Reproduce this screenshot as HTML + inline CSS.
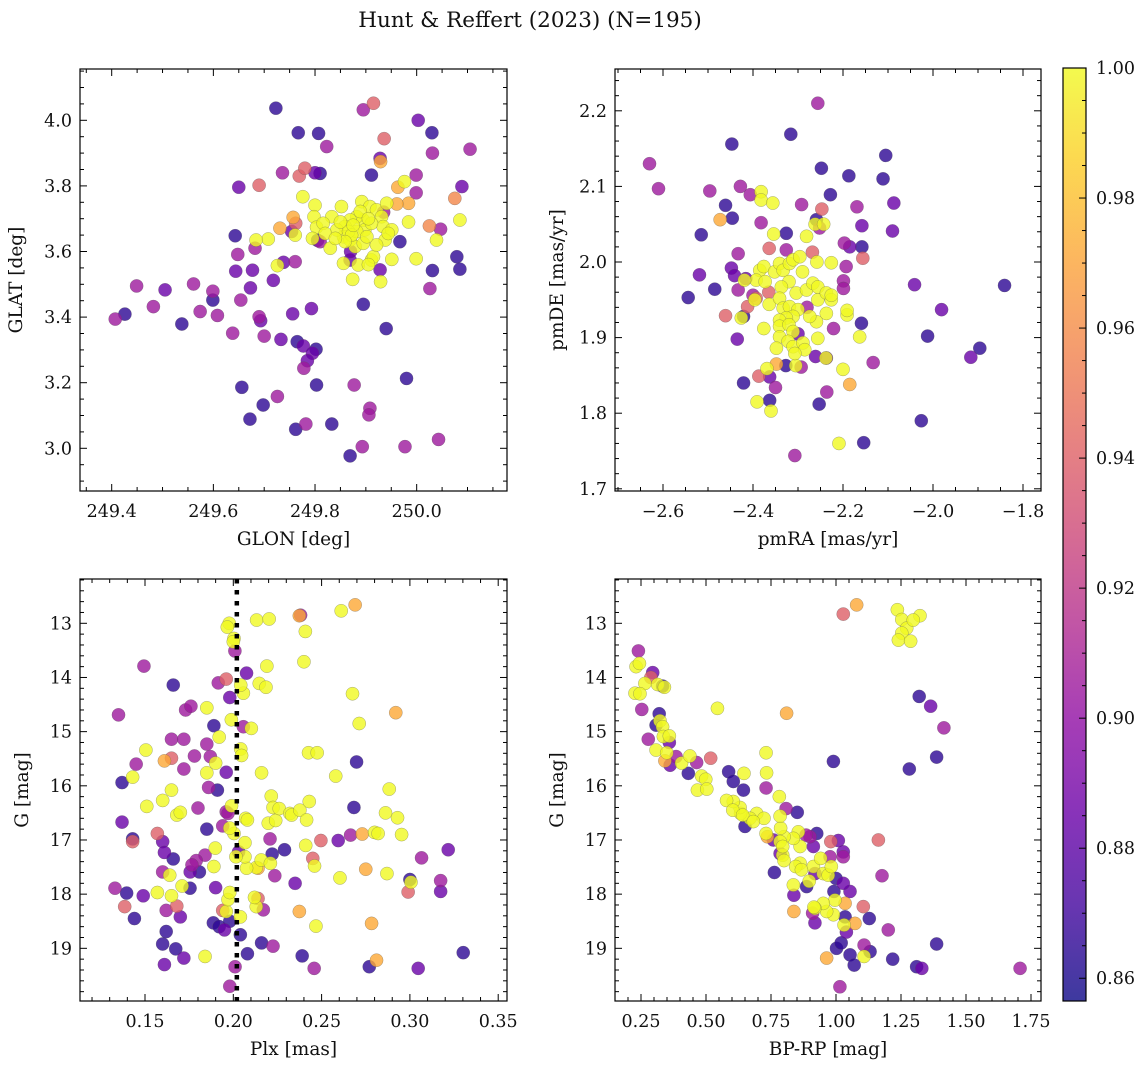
<!DOCTYPE html>
<html><head><meta charset="utf-8">
<style>
html,body{margin:0;padding:0;background:#fff;}
svg{display:block;font-family:"DejaVu Serif","Liberation Serif",serif;}
</style></head>
<body>
<svg id="fig" width="1148" height="1068" viewBox="0 0 1148 1068" xmlns="http://www.w3.org/2000/svg">
<defs>
<linearGradient id="plasma" x1="0" y1="1" x2="0" y2="0"></linearGradient>
</defs>
<text x="530" y="27" text-anchor="middle" font-size="21.5" fill="#111">Hunt &amp; Reffert (2023) (N=195)</text>
</svg>
<script>
const B=0.865,V=0.885,M=0.905,P=0.94,O=0.972,Y=1.0;
const skyPoints=[[249.723,4.037,B],[249.895,4.032,M],[249.915,4.052,P],[249.767,3.962,B],[249.807,3.960,B],[250.003,4.0,V],[250.03,3.962,B],[249.823,3.92,M],[249.936,3.944,P],[250.105,3.912,M],[250.031,3.9,M],[249.928,3.884,V],[249.929,3.874,O],[249.736,3.84,M],[249.769,3.83,P],[249.78,3.854,P],[249.8,3.84,V],[249.81,3.838,B],[249.911,3.833,B],[249.999,3.833,M],[249.65,3.796,V],[249.69,3.802,P],[250.089,3.798,V],[249.999,3.779,M],[249.976,3.813,Y],[249.963,3.796,O],[250.075,3.762,0.958],[249.776,3.767,Y],[249.984,3.747,O],[249.961,3.745,O],[250.085,3.696,Y],[249.984,3.69,Y],[250.025,3.678,0.958],[250.047,3.668,M],[250.039,3.635,Y],[249.967,3.63,B],[249.999,3.578,Y],[249.951,3.576,Y],[250.079,3.584,B],[250.085,3.546,B],[250.031,3.542,B],[250.026,3.487,M],[249.928,3.544,V],[249.929,3.508,Y],[249.874,3.515,Y],[249.856,3.564,Y],[249.869,3.574,V],[249.885,3.559,Y],[249.911,3.574,Y],[249.915,3.584,Y],[249.905,3.56,Y],[249.757,3.704,O],[249.762,3.686,P],[249.731,3.671,O],[249.754,3.661,V],[249.761,3.650,Y],[249.708,3.638,Y],[249.684,3.635,Y],[249.643,3.648,B],[249.682,3.610,M],[249.648,3.591,M],[249.738,3.567,V],[249.726,3.557,Y],[249.761,3.569,M],[249.644,3.540,V],[249.677,3.543,V],[249.718,3.512,V],[249.673,3.489,V],[249.561,3.501,M],[249.449,3.495,M],[249.505,3.483,V],[249.599,3.479,M],[249.599,3.452,B],[249.654,3.452,M],[249.482,3.432,M],[249.574,3.417,M],[249.608,3.405,M],[249.426,3.409,B],[249.407,3.394,M],[249.538,3.379,B],[249.638,3.351,M],[249.69,3.401,M],[249.693,3.389,V],[249.7,3.342,M],[249.733,3.332,V],[249.756,3.41,V],[249.793,3.426,V],[249.895,3.439,B],[249.94,3.365,B],[249.765,3.325,B],[249.777,3.312,V],[249.802,3.302,B],[249.795,3.29,V],[249.785,3.267,V],[249.778,3.244,M],[249.803,3.193,B],[249.656,3.186,B],[249.726,3.158,M],[249.698,3.132,B],[249.672,3.089,B],[249.762,3.058,B],[249.782,3.074,M],[249.833,3.074,B],[249.877,3.193,M],[249.908,3.122,M],[249.906,3.102,M],[249.98,3.213,B],[249.869,2.977,B],[249.893,3.005,M],[249.977,3.005,M],[250.043,3.027,M],[249.805,3.634,B],[249.81,3.63,M],[249.935,3.72,M],[249.87,3.6,V],
[249.8,3.741,Y],[249.798,3.706,Y],[249.803,3.674,Y],[249.795,3.64,Y],[249.83,3.61,Y],[249.833,3.706,Y],[249.852,3.737,Y],[249.892,3.752,Y],[249.908,3.737,Y],[249.921,3.727,Y],[249.941,3.747,Y],[249.931,3.706,Y],[249.934,3.676,Y],[249.951,3.666,Y],[249.938,3.635,Y],[249.921,3.62,Y],[249.895,3.696,Y],[249.882,3.706,Y],[249.869,3.696,Y],[249.859,3.676,Y],[249.856,3.645,Y],[249.869,3.635,Y],[249.879,3.615,Y],[249.895,3.625,Y],[249.898,3.666,Y],[249.911,3.686,Y],[249.882,3.661,Y],[249.843,3.666,Y],[249.816,3.686,Y],[249.82,3.655,Y],[249.866,3.661,Y],[249.872,3.65,Y],[249.859,3.63,Y],[249.902,3.645,Y],[249.889,3.722,Y],[249.944,3.655,Y],[249.85,3.69,Y],[249.875,3.68,Y],[249.905,3.7,Y],[249.84,3.64,Y]];
const pmPoints=[[-2.256,2.21,M],[-2.316,2.169,B],[-2.447,2.156,B],[-2.63,2.13,M],[-2.61,2.097,M],[-2.105,2.141,B],[-2.248,2.124,B],[-2.187,2.114,B],[-2.111,2.11,B],[-2.228,2.089,B],[-2.087,2.078,V],[-2.496,2.094,M],[-2.428,2.1,M],[-2.406,2.089,M],[-2.382,2.093,Y],[-2.382,2.082,Y],[-2.356,2.078,Y],[-2.292,2.076,M],[-2.247,2.07,P],[-2.169,2.073,M],[-2.461,2.075,B],[-2.473,2.056,O],[-2.446,2.058,B],[-2.382,2.052,M],[-2.259,2.056,B],[-2.262,2.05,Y],[-2.243,2.05,Y],[-2.252,2.045,M],[-2.158,2.048,V],[-2.09,2.041,V],[-2.515,2.036,B],[-2.354,2.037,Y],[-2.326,2.038,B],[-2.281,2.034,Y],[-2.433,2.011,M],[-2.364,2.018,P],[-2.326,2.016,M],[-2.268,2.013,P],[-2.197,2.025,M],[-2.185,2.02,V],[-2.158,2.02,B],[-2.156,2.005,P],[-2.193,1.994,M],[-2.258,2.0,Y],[-2.226,1.999,Y],[-2.448,1.992,V],[-2.519,1.983,V],[-2.441,1.982,V],[-2.416,1.978,V],[-2.041,1.97,V],[-1.841,1.969,B],[-2.544,1.953,B],[-2.485,1.964,B],[-2.433,1.963,M],[-2.199,1.975,M],[-2.199,1.965,M],[-2.4,1.956,M],[-2.393,1.952,P],[-2.412,1.941,P],[-2.461,1.929,P],[-2.421,1.928,B],[-2.426,1.926,Y],[-1.981,1.937,V],[-2.012,1.902,B],[-1.896,1.886,B],[-1.916,1.874,V],[-2.159,1.919,B],[-2.221,1.912,M],[-2.435,1.898,V],[-2.133,1.867,M],[-2.191,1.93,Y],[-2.191,1.936,Y],[-2.163,1.901,Y],[-2.2,1.858,Y],[-2.185,1.838,O],[-2.237,1.873,V],[-2.261,1.875,V],[-2.327,1.863,B],[-2.305,1.863,Y],[-2.293,1.861,M],[-2.348,1.865,O],[-2.369,1.859,Y],[-2.387,1.849,P],[-2.363,1.848,V],[-2.35,1.834,M],[-2.421,1.84,B],[-2.391,1.815,Y],[-2.363,1.817,B],[-2.36,1.803,Y],[-2.253,1.812,B],[-2.236,1.828,M],[-2.026,1.79,B],[-2.209,1.76,Y],[-2.154,1.761,B],[-2.307,1.744,M],[-2.238,1.873,Y],[-2.365,1.96,P],[-2.28,1.94,M],[-2.3,1.905,V],
[-2.385,1.989,Y],[-2.376,1.994,Y],[-2.393,1.976,Y],[-2.373,1.974,Y],[-2.364,1.944,Y],[-2.352,1.987,Y],[-2.341,1.998,Y],[-2.333,1.989,Y],[-2.319,1.998,Y],[-2.311,2.003,Y],[-2.296,2.007,Y],[-2.29,1.987,Y],[-2.32,1.974,Y],[-2.337,1.967,Y],[-2.341,1.952,Y],[-2.333,1.939,Y],[-2.319,1.941,Y],[-2.3,1.937,Y],[-2.304,1.959,Y],[-2.281,1.963,Y],[-2.267,1.972,Y],[-2.256,1.967,Y],[-2.256,1.95,Y],[-2.237,1.959,Y],[-2.226,1.95,Y],[-2.237,1.932,Y],[-2.259,1.921,Y],[-2.274,1.928,Y],[-2.311,1.928,Y],[-2.326,1.926,Y],[-2.341,1.923,Y],[-2.341,1.915,Y],[-2.32,1.917,Y],[-2.311,1.908,Y],[-2.341,1.901,Y],[-2.322,1.895,Y],[-2.311,1.888,Y],[-2.289,1.893,Y],[-2.285,1.884,Y],[-2.376,1.912,Y],[-2.348,1.886,Y],[-2.256,1.899,Y],[-2.226,1.956,Y],[-2.419,1.976,Y],[-2.396,1.95,Y],[-2.307,1.879,Y]];
const plxPoints=[[0.1494,13.79,M],[0.135,14.69,M],[0.166,14.14,B],[0.137,15.94,B],[0.145,15.6,M],[0.1505,15.34,Y],[0.143,15.84,Y],[0.165,15.14,M],[0.172,15.14,M],[0.165,15.49,P],[0.161,15.54,O],[0.172,15.69,M],[0.178,15.45,M],[0.173,14.6,M],[0.176,14.53,M],[0.185,14.56,Y],[0.189,14.89,B],[0.192,15.1,Y],[0.185,15.23,M],[0.187,15.46,M],[0.19,15.58,Y],[0.185,15.76,Y],[0.196,15.75,V],[0.186,16.03,M],[0.191,16.08,B],[0.165,16.08,Y],[0.16,16.27,Y],[0.151,16.38,Y],[0.168,16.54,Y],[0.17,16.49,Y],[0.18,16.41,M],[0.196,16.48,M],[0.194,16.74,M],[0.137,16.67,V],[0.185,16.8,B],[0.157,16.88,P],[0.143,16.98,B],[0.143,17.03,P],[0.16,17.03,V],[0.161,17.23,V],[0.166,17.35,B],[0.184,17.28,M],[0.1898,17.15,Y],[0.179,17.38,M],[0.1766,17.46,M],[0.1756,17.59,V],[0.16,17.59,M],[0.164,17.65,Y],[0.1808,17.59,B],[0.189,17.49,Y],[0.1755,17.89,B],[0.171,17.85,Y],[0.133,17.89,M],[0.1396,17.98,B],[0.149,18.03,V],[0.157,17.97,Y],[0.165,18.03,Y],[0.19,17.88,V],[0.1385,18.23,P],[0.162,18.3,M],[0.168,18.22,P],[0.17,18.42,V],[0.144,18.45,B],[0.162,18.69,B],[0.16,18.92,B],[0.1674,19.01,B],[0.172,19.18,V],[0.161,19.3,V],[0.184,19.15,Y],[0.1887,18.53,B],[0.192,18.6,B],[0.195,18.66,V],[0.198,18.5,B],[0.194,18.3,P],[0.196,18.32,Y],[0.197,18.1,Y],[0.198,17.97,Y],[0.198,19.7,M],[0.201,19.34,M],[0.204,18.75,B],[0.208,19.1,B],[0.204,18.42,Y],[0.216,18.9,B],[0.2225,18.96,M],[0.217,18.29,M],[0.214,18.08,P],[0.213,18.23,Y],[0.212,18.06,Y],[0.214,17.52,O],[0.213,17.51,Y],[0.2158,17.37,Y],[0.221,17.43,Y],[0.2235,17.66,M],[0.2075,17.52,Y],[0.2066,17.31,Y],[0.2015,17.31,Y],[0.203,17.22,V],[0.2066,17.05,Y],[0.2004,16.88,Y],[0.198,16.78,Y],[0.199,16.37,Y],[0.197,16.51,M],[0.207,16.6,Y],[0.208,16.63,Y],[0.2198,16.69,Y],[0.224,16.64,Y],[0.2215,16.19,Y],[0.2225,16.4,Y],[0.226,16.42,Y],[0.232,16.51,Y],[0.233,16.54,Y],[0.2377,16.45,Y],[0.243,16.29,Y],[0.2415,16.63,Y],[0.2208,16.98,M],[0.222,17.26,B],[0.229,17.18,B],[0.241,17.1,Y],[0.245,17.34,P],[0.246,17.48,Y],[0.2496,17.01,P],[0.235,17.8,V],[0.2374,18.32,O],[0.2468,18.59,Y],[0.239,19.14,B],[0.2458,19.37,M],[0.2594,17.01,V],[0.2664,16.91,M],[0.273,16.89,O],[0.28,16.86,Y],[0.282,16.88,Y],[0.275,17.54,O],[0.2604,17.7,Y],[0.287,17.62,Y],[0.2953,16.9,Y],[0.293,16.59,Y],[0.2862,16.5,Y],[0.2883,16.06,Y],[0.2683,16.4,B],[0.2698,15.56,B],[0.258,15.82,Y],[0.2426,15.39,Y],[0.2475,15.39,Y],[0.292,14.65,O],[0.2713,14.85,Y],[0.2675,14.3,Y],[0.24,13.71,Y],[0.2408,13.15,Y],[0.2381,12.85,M],[0.2374,12.86,O],[0.2611,12.77,Y],[0.269,12.66,O],[0.2132,12.94,Y],[0.2203,12.92,Y],[0.219,13.79,Y],[0.2147,14.11,Y],[0.2185,14.18,Y],[0.2075,13.92,V],[0.2057,14.29,Y],[0.2042,14.14,Y],[0.2102,14.94,Y],[0.2057,14.91,M],[0.1989,14.78,Y],[0.198,14.37,V],[0.196,14.03,P],[0.1915,14.1,M],[0.1977,13.0,Y],[0.1966,13.07,Y],[0.2004,13.28,Y],[0.2,13.34,Y],[0.2009,13.51,M],[0.2042,15.32,Y],[0.2047,15.44,Y],[0.216,15.76,Y],[0.3302,19.08,B],[0.3047,19.37,V],[0.277,19.34,B],[0.2811,19.22,O],[0.2783,18.54,O],[0.3174,17.75,M],[0.3174,17.95,V],[0.3217,17.18,V],[0.3066,17.33,M],[0.3,17.73,B],[0.3006,17.78,Y],[0.299,17.96,P]];
const cmdPoints=[[1.0795,12.66,O],[1.028,12.83,P],[1.236,12.75,Y],[1.253,12.93,Y],[1.323,12.86,Y],[1.272,13.09,Y],[1.253,13.18,Y],[1.24,13.31,Y],[1.287,13.33,Y],[1.297,12.94,Y],[0.24,13.51,M],[0.231,13.8,Y],[0.244,13.74,Y],[0.288,14.0,P],[0.295,13.91,V],[0.265,14.11,Y],[0.227,14.29,Y],[0.246,14.3,Y],[0.314,14.13,Y],[0.333,14.16,B],[0.34,14.18,Y],[0.253,14.59,M],[0.544,14.57,Y],[0.81,14.66,O],[0.32,14.67,B],[0.308,14.88,B],[0.323,14.8,Y],[0.333,14.91,Y],[0.278,15.14,M],[0.336,15.09,Y],[0.359,15.2,V],[0.359,15.08,Y],[0.308,15.34,Y],[0.349,15.39,Y],[0.342,15.54,O],[0.362,15.62,V],[0.385,15.46,M],[0.406,15.58,Y],[0.438,15.45,Y],[0.464,15.57,M],[0.432,15.77,B],[0.483,15.82,Y],[0.499,15.88,Y],[0.467,16.08,Y],[0.503,16.06,Y],[0.518,15.49,P],[0.587,15.74,B],[0.605,15.92,B],[0.646,15.77,Y],[0.644,16.08,B],[0.731,15.39,Y],[0.733,15.76,Y],[0.731,16.04,M],[0.782,16.2,Y],[0.808,16.42,M],[0.851,16.49,B],[0.99,15.55,B],[1.282,15.69,B],[1.387,15.47,B],[1.415,14.93,M],[1.364,14.53,V],[1.32,14.35,B],[1.163,17.0,P],[1.177,17.66,M],[1.201,18.66,M],[1.218,19.2,B],[1.387,18.92,B],[1.31,19.34,B],[1.33,19.37,V],[1.708,19.37,M],[1.015,19.71,M],[0.964,19.18,O],[1.002,19.0,B],[1.054,19.12,B],[1.07,19.31,B],[1.108,19.15,Y],[1.108,18.94,M],[1.131,19.06,B],[1.128,18.45,B],[1.105,18.23,P],[1.073,18.54,O],[1.035,18.42,B],[1.031,18.57,Y],[1.035,18.17,O],[1.054,17.95,V],[1.028,17.8,V],[1.0,17.71,B],[0.992,17.95,B],[0.996,18.11,Y],[0.99,18.38,Y],[0.964,18.32,Y],[0.951,18.17,Y],[0.919,18.26,Y],[0.91,18.35,M],[0.919,18.53,V],[0.838,18.02,V],[0.838,18.32,O],[0.887,17.86,B],[0.897,17.76,Y],[0.913,17.49,Y],[0.862,17.43,Y],[0.845,17.49,Y],[0.867,17.55,Y],[0.919,17.62,V],[0.951,17.62,Y],[0.97,17.65,Y],[0.982,17.49,Y],[0.977,17.31,M],[0.941,17.34,Y],[0.913,17.12,V],[0.9,16.94,M],[0.885,16.91,M],[0.926,16.88,B],[0.98,17.03,P],[1.009,17.01,V],[1.028,17.22,V],[1.028,17.31,M],[0.862,17.12,Y],[0.855,16.85,Y],[0.836,16.97,Y],[0.8,16.94,Y],[0.787,16.78,Y],[0.785,17.03,Y],[0.795,17.28,Y],[0.795,17.12,Y],[0.8,17.38,Y],[0.785,17.25,V],[0.763,17.6,B],[0.785,16.56,Y],[0.759,17.0,V],[0.731,16.88,Y],[0.736,16.94,O],[0.695,16.51,Y],[0.723,16.6,Y],[0.669,16.6,Y],[0.65,16.75,B],[0.633,16.51,Y],[0.631,16.4,Y],[0.605,16.29,Y],[0.579,16.27,Y],[0.603,16.45,Y],[0.641,16.54,Y],[0.682,16.66,Y],[0.836,17.83,Y],[0.915,18.24,Y],[1.02,18.9,B],[1.04,18.7,V]];
const plxCut=[0.202];
const cbarTicks=[0.86,0.88,0.90,0.92,0.94,0.96,0.98,1.00];
const cmin=0.8565,cmax=1.0;

const NS="http://www.w3.org/2000/svg";
const svg=document.getElementById('fig');
function el(tag,attrs,parent){const e=document.createElementNS(NS,tag);for(const k in attrs)e.setAttribute(k,attrs[k]);(parent||svg).appendChild(e);return e;}
const stops=[[0,'#0d0887'],[0.1,'#41049d'],[0.2,'#6a00a8'],[0.3,'#8f0da4'],[0.4,'#b12a90'],[0.5,'#cc4778'],[0.6,'#e16462'],[0.7,'#f2844b'],[0.8,'#fca636'],[0.9,'#fcce25'],[1,'#f0f921']];
function hex(h){return [parseInt(h.substr(1,2),16),parseInt(h.substr(3,2),16),parseInt(h.substr(5,2),16)];}
function plasma(t){t=Math.max(0,Math.min(1,t));for(let i=1;i<stops.length;i++){if(t<=stops[i][0]){const a=stops[i-1],b=stops[i];const f=(t-a[0])/(b[0]-a[0]);const ca=hex(a[1]),cb=hex(b[1]);return 'rgb('+ca.map((v,j)=>Math.round(v+(cb[j]-v)*f)).join(',')+')';}}return stops[stops.length-1][1];}
const grad=document.getElementById('plasma');
for(let i=0;i<=20;i++){const s=el('stop',{offset:(i/20),'stop-color':plasma(i/20)},grad);}

const TICK=17.5, LAB=18.5;
function fmt(v,d){return v.toFixed(d).replace('-','\u2212');}
function panel(cfg){
  const g=el('g',{});
  
  
  const sx=v=>cfg.x0+(v-cfg.xmin)/(cfg.xmax-cfg.xmin)*(cfg.x1-cfg.x0);
  const sy=cfg.invert? (v=>cfg.y0+(v-cfg.ymin)/(cfg.ymax-cfg.ymin)*(cfg.y1-cfg.y0)) : (v=>cfg.y1-(v-cfg.ymin)/(cfg.ymax-cfg.ymin)*(cfg.y1-cfg.y0));
  const clip=el('clipPath',{id:'clip'+cfg.id},g);
  el('rect',{x:cfg.x0,y:cfg.y0,width:cfg.x1-cfg.x0,height:cfg.y1-cfg.y0},clip);
  const pg=el('g',{'clip-path':'url(#clip'+cfg.id+')'},g);
  const pts=cfg.data.slice().sort((a,b)=>a[2]-b[2]);
  pts.forEach(p=>{
    const c=el('circle',{cx:sx(p[0]),cy:sy(p[1]),r:6.6,fill:plasma((p[2]-cmin)/(cmax-cmin)),'fill-opacity':0.8,stroke:'#555','stroke-opacity':0.5,'stroke-width':0.5},pg);
    
    
  });
  if(cfg.vline){cfg.vline.forEach(v=>{const l=el('line',{x1:sx(v),x2:sx(v),y1:cfg.y0,y2:cfg.y1,stroke:'#000','stroke-width':4.5,'stroke-dasharray':'4.5 6.5'},pg);
    
    });}
  el('rect',{x:cfg.x0,y:cfg.y0,width:cfg.x1-cfg.x0,height:cfg.y1-cfg.y0,fill:'none',stroke:'#000','stroke-width':1.2},g);
  const tk=el('g',{stroke:'#000','stroke-width':1},g);
  const eps=1e-9;
  for(let v=Math.ceil(cfg.xmin/cfg.xminor-eps)*cfg.xminor;v<=cfg.xmax+eps;v+=cfg.xminor){
    const X=sx(v);const isMaj=Math.abs(v/cfg.xmajor-Math.round(v/cfg.xmajor))<1e-6;const L=isMaj?7:4;
    el('line',{x1:X,x2:X,y1:cfg.y1,y2:cfg.y1-L},tk);el('line',{x1:X,x2:X,y1:cfg.y0,y2:cfg.y0+L},tk);
    if(isMaj){const t=el('text',{x:X,y:cfg.y1+26,'text-anchor':'middle','font-size':TICK,fill:'#111',stroke:'none'},g);t.textContent=fmt(v,cfg.xd);
      }
  }
  for(let v=Math.ceil(cfg.ymin/cfg.yminor-eps)*cfg.yminor;v<=cfg.ymax+eps;v+=cfg.yminor){
    const Y=sy(v);const isMaj=Math.abs(v/cfg.ymajor-Math.round(v/cfg.ymajor))<1e-6;const L=isMaj?7:4;
    el('line',{x1:cfg.x0,x2:cfg.x0+L,y1:Y,y2:Y},tk);el('line',{x1:cfg.x1,x2:cfg.x1-L,y1:Y,y2:Y},tk);
    if(isMaj){const t=el('text',{x:cfg.x0-8,y:Y+6,'text-anchor':'end','font-size':TICK,fill:'#111',stroke:'none'},g);t.textContent=fmt(v,cfg.yd);
      }
  }
  const xl=el('text',{x:(cfg.x0+cfg.x1)/2,y:cfg.y1+54,'text-anchor':'middle','font-size':LAB,fill:'#111'},g);xl.textContent=cfg.xlabel;
  
  const yx=cfg.x0-cfg.ylabOff,yy=(cfg.y0+cfg.y1)/2;
  const yl=el('text',{x:yx,y:yy,'text-anchor':'middle','font-size':LAB,fill:'#111',transform:'rotate(-90 '+yx+' '+yy+')'},g);yl.textContent=cfg.ylabel;
  
}
panel({id:1,name:'sky-position-panel',data:skyPoints,x0:80,x1:507,y0:69,y1:491,xmin:249.4-31.7/508.3,xmax:249.4+(507-111.7)/508.3,ymin:4.0-(491-120.3)/328,ymax:4.0+(120.3-69)/328,xmajor:0.2,xminor:0.05,ymajor:0.2,yminor:0.05,xd:1,yd:1,xlabel:'GLON [deg]',ylabel:'GLAT [deg]',ylabOff:58});
panel({id:2,name:'proper-motion-panel',data:pmPoints,x0:615,x1:1041,y0:69,y1:491,xmin:-2.6-48/450,xmax:-2.6+(1041-663)/450,ymin:2.0-(491-262)/756,ymax:2.0+(262-69)/756,xmajor:0.2,xminor:0.05,ymajor:0.1,yminor:0.02,xd:1,yd:1,xlabel:'pmRA [mas/yr]',ylabel:'pmDE [mas/yr]',ylabOff:52});
panel({id:3,name:'parallax-magnitude-panel',data:plxPoints,vline:plxCut,invert:true,x0:80,x1:507,y0:579,y1:1001,xmin:0.15-65/1766,xmax:0.15+(507-145)/1766,ymin:13-(623.3-579)/54.17,ymax:13+(1001-623.3)/54.17,xmajor:0.05,xminor:0.01,ymajor:1,yminor:0.2,xd:2,yd:0,xlabel:'Plx [mas]',ylabel:'G [mag]',ylabOff:52});
panel({id:4,name:'color-magnitude-panel',data:cmdPoints,invert:true,x0:615,x1:1041,y0:579,y1:1001,xmin:0.25-26/260,xmax:0.25+(1041-641)/260,ymin:13-(623.3-579)/54.17,ymax:13+(1001-623.3)/54.17,xmajor:0.25,xminor:0.05,ymajor:1,yminor:0.2,xd:2,yd:0,xlabel:'BP-RP [mag]',ylabel:'G [mag]',ylabOff:52});

const cb=el('g',{});


const cy0=68,cy1=1001,cx0=1063,cx1=1086;
const cby=v=>cy1-(v-cmin)/(cmax-cmin)*(cy1-cy0);
el('rect',{x:cx0,y:cy0,width:cx1-cx0,height:cy1-cy0,fill:'url(#plasma)','fill-opacity':0.8,stroke:'none'},cb);
el('rect',{x:cx0,y:cy0,width:cx1-cx0,height:cy1-cy0,fill:'none',stroke:'#000','stroke-width':1.2},cb);
for(let v=0.86;v<=1.0001;v+=0.005){
  const Y=cby(v);const maj=Math.abs(v*50-Math.round(v*50))<1e-6;
  el('line',{x1:cx1,x2:cx1-(maj?7:4),y1:Y,y2:Y,stroke:'#000','stroke-width':1},cb);
}
cbarTicks.forEach(v=>{const t=el('text',{x:cx1+10,y:cby(v)+6,'font-size':TICK,fill:'#111'},cb);t.textContent=v.toFixed(2);
  });
</script>
</body></html>
